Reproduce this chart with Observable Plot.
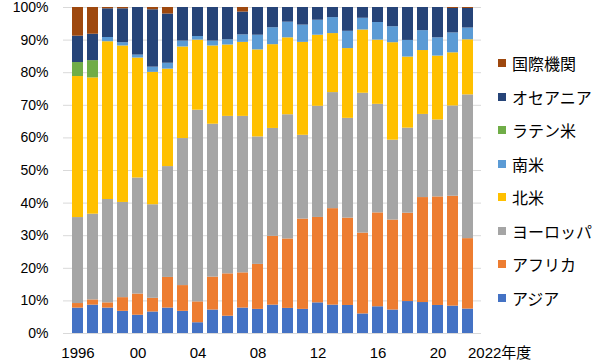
<!DOCTYPE html>
<html>
<head>
<meta charset="utf-8">
<script src="https://cdn.jsdelivr.net/npm/d3@7"></script>
<script src="https://cdn.jsdelivr.net/npm/@observablehq/plot@0.6"></script>
<style>
  html, body { margin: 0; padding: 0; background: #fff; }
  #wrap { position: relative; width: 600px; height: 363px; font-family: "Liberation Sans", Arial, "Noto Sans CJK JP", sans-serif; }
  #legend { position: absolute; left: 498px; top: 0; }
  .item { position: absolute; left: 0; white-space: nowrap; font-size: 16px; color: #000; line-height: 16px; font-family: "Noto Sans CJK JP", sans-serif; }
  .sw { position: absolute; left: 0; width: 8px; height: 8px; }
  .lab { position: absolute; left: 14px; }
</style>
</head>
<body>
<div id="wrap"><div id="legend"></div></div>
<script>
const years = [1996,1997,1998,1999,2000,2001,2002,2003,2004,2005,2006,2007,2008,2009,2010,2011,2012,2013,2014,2015,2016,2017,2018,2019,2020,2021,2022];
const categories = ["アジア","アフリカ","ヨーロッパ","北米","南米","ラテン米","オセアニア","国際機関"];
const colors = ["#4472C4","#ED7D31","#A5A5A5","#FFC000","#5B9BD5","#70AD47","#264478","#9E480E"];

const asia    = [7.8,8.7,7.8,6.8,5.6,6.6,7.8,6.8,3.3,7.2,5.3,7.8,7.4,8.7,7.7,7.4,9.4,8.7,8.6,6.0,8.2,7.2,9.8,9.5,8.6,8.4,7.5];
const africa  = [1.4,1.6,1.6,4.2,6.5,4.2,9.4,7.9,6.4,10.1,13.0,10.8,13.8,21.1,21.3,27.7,26.2,29.6,26.8,24.8,28.8,27.6,27.1,32.2,33.3,33.7,21.6];
const europe  = [26.4,26.3,31.7,29.2,35.6,28.7,34.0,45.1,58.8,46.9,48.3,48.0,39.1,33.1,38.1,25.7,34.1,35.6,30.6,42.9,33.3,24.5,26.1,25.5,23.6,27.7,44.1];
const nAmerica= [43.3,41.8,48.4,48.0,36.8,40.6,29.9,28.1,21.5,24.0,21.9,22.7,26.7,25.7,23.6,28.5,21.8,18.1,21.4,19.4,19.7,29.9,21.8,19.6,19.6,16.3,16.9];
const sAmerica= [0,0,1.3,1.0,0.9,1.6,1.8,1.8,1.1,1.5,1.6,2.3,4.5,5.2,4.8,5.3,4.6,4.9,5.3,3.6,5.4,4.9,5.1,6.1,5.6,6.1,3.6];
const latinAm = [4.3,5.3,0,0,0,0,0,0,0,0,0,0,0,0,0,0,0,0,0,0,0,0,0,0,0,0,0];
const oceania = [8.1,8.1,8.8,10.4,14.6,17.6,15.1,10.3,8.9,10.3,9.9,7.0,8.5,6.2,4.5,5.4,3.9,3.1,7.3,3.3,4.6,5.9,10.1,7.1,9.3,7.5,6.0];
const intl    = [8.8,8.2,0.4,0.4,0,0.7,2.0,0,0,0,0,1.4,0,0,0,0,0,0,0,0,0,0,0,0,0,0.3,0.3];
const series = [asia, africa, europe, nAmerica, sAmerica, latinAm, oceania, intl];

const xTickYears = [1996,2000,2004,2008,2012,2016,2020];
const xTickLabels = ["1996","00","04","08","12","16","20"];
const lastYearLabel = "2022年度";

const rows = [];
years.forEach((y, i) => {
  categories.forEach((c, k) => rows.push({year: y, region: c, value: series[k][i]}));
});

const fontFam = '"Liberation Sans", Arial, "Noto Sans CJK JP", sans-serif';

const chart = Plot.plot({
  width: 600,
  height: 363,
  marginTop: 7,
  marginBottom: 30,
  marginLeft: 63,
  marginRight: 119,
  style: {fontFamily: fontFam, fontSize: "14px", color: "#000", background: "#fff"},
  x: {type: "band", domain: years, paddingInner: 0.3, paddingOuter: 0.15, axis: null},
  y: {domain: [0, 1], axis: null},
  color: {domain: categories, range: colors},
  marks: [
    Plot.ruleY(d3.range(1, 11).map(d => d / 10), {stroke: "#d9d9d9", strokeWidth: 1}),
    Plot.barY(rows, Plot.stackY({offset: "normalize", order: null}, {x: "year", y: "value", fill: "region"})),
    Plot.ruleY([0], {stroke: "#d9d9d9", strokeWidth: 1}),
    Plot.axisY(d3.range(0, 11).map(d => d / 10), {tickSize: 0, tickPadding: 15, tickFormat: d => Math.round(d * 100) + "%", fontSize: 14, label: null}),
    Plot.axisX(xTickYears, {tickSize: 0, tickPadding: 14, fontSize: 15, label: null, tickFormat: d => xTickLabels[xTickYears.indexOf(d)]}),
    Plot.axisX([2022], {tickSize: 0, tickPadding: 14, fontSize: 15, label: null, textAnchor: "start", tickFormat: () => lastYearLabel})
  ]
});
document.getElementById("wrap").prepend(chart);
chart.style.position = "absolute";
chart.style.left = "0";
chart.style.top = "0";

const legend = document.getElementById("legend");
const legendTops = categories.map((c, k) => 297.5 - k * 33.5);
categories.forEach((c, k) => {
  const it = document.createElement("div");
  it.className = "item";
  it.style.top = (legendTops[k] - 8) + "px";
  const sw = document.createElement("div");
  sw.className = "sw";
  sw.style.top = "4px";
  sw.style.background = colors[k];
  const lab = document.createElement("div");
  lab.className = "lab";
  lab.textContent = c;
  it.appendChild(sw);
  it.appendChild(lab);
  legend.appendChild(it);
});
</script>
</body>
</html>
